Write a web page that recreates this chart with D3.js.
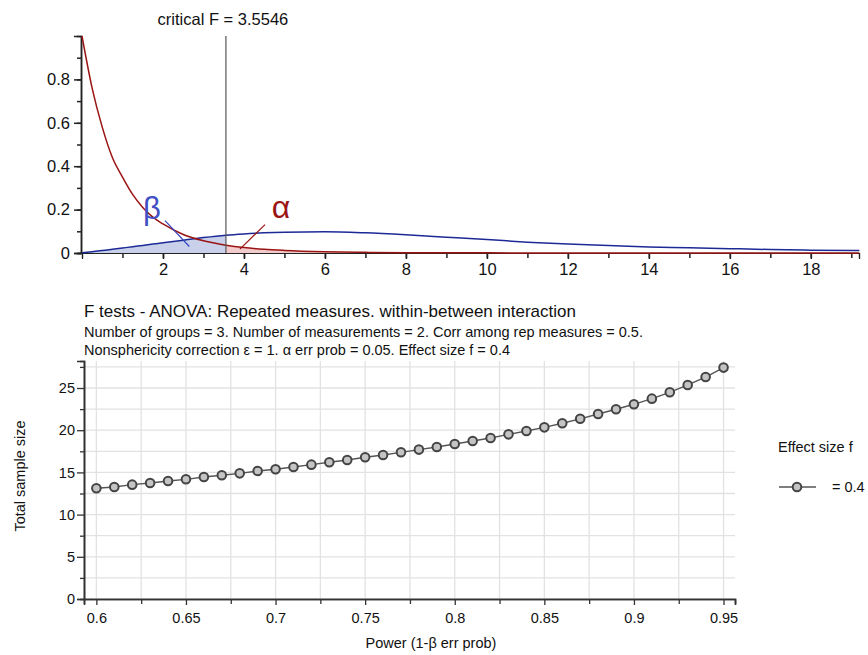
<!DOCTYPE html>
<html>
<head>
<meta charset="utf-8">
<script src="https://d3js.org/d3.v7.min.js"></script>
<style>
  body { margin: 0; background: #fff; }
  svg { font-family: "Liberation Sans", Arial, sans-serif; }
</style>
</head>
<body>
<svg width="868" height="655"></svg>
<script>
// ---- top panel: densities ----
var fValues    = [0, 0.25, 0.5, 0.75, 1, 1.25, 1.5, 1.75, 2, 2.5, 3, 3.5546, 4, 4.5, 5, 6, 7, 8, 9, 10, 11, 12, 13, 14, 15, 16, 17, 18, 19.2];
var centralF   = [1.0, 0.76, 0.58, 0.44, 0.35, 0.27, 0.21, 0.165, 0.134, 0.085, 0.056, 0.036, 0.025, 0.017, 0.012, 0.006, 0.003, 0.0017, 0.001, 0.0006, 0.0004, 0.0002, 0.0001, 0.0001, 0, 0, 0, 0, 0];
var noncentral = [0.001, 0.006, 0.011, 0.017, 0.023, 0.029, 0.035, 0.041, 0.047, 0.059, 0.071, 0.082, 0.088, 0.093, 0.096, 0.098, 0.093, 0.084, 0.073, 0.062, 0.050, 0.041, 0.034, 0.028, 0.024, 0.020, 0.016, 0.013, 0.011];
var critF = 3.5546;
var topYTicks = [0, 0.2, 0.4, 0.6, 0.8];
var topXTicks = [2, 4, 6, 8, 10, 12, 14, 16, 18];

// ---- bottom panel: total sample size vs power ----
var power = [0.60, 0.61, 0.62, 0.63, 0.64, 0.65, 0.66, 0.67, 0.68, 0.69, 0.70, 0.71, 0.72, 0.73, 0.74, 0.75, 0.76, 0.77, 0.78, 0.79, 0.80, 0.81, 0.82, 0.83, 0.84, 0.85, 0.86, 0.87, 0.88, 0.89, 0.90, 0.91, 0.92, 0.93, 0.94, 0.95];
var sampleSize = [13.12, 13.27, 13.55, 13.75, 13.98, 14.18, 14.45, 14.66, 14.89, 15.17, 15.37, 15.64, 15.92, 16.2, 16.47, 16.79, 17.06, 17.38, 17.70, 18.01, 18.37, 18.72, 19.08, 19.51, 19.91, 20.34, 20.82, 21.35, 21.92, 22.48, 23.07, 23.74, 24.49, 25.36, 26.30, 27.42];
var powerTicks = [0.6, 0.65, 0.7, 0.75, 0.8, 0.85, 0.9, 0.95];
var sizeTicks = [0, 5, 10, 15, 20, 25];

var svg = d3.select('svg');
var FONT = '"Liberation Sans", Arial, sans-serif';

// ================= top chart =================
var xs = d3.scaleLinear().domain([0, 19.19]).range([82, 859]);
var ys = d3.scaleLinear().domain([0, 1]).range([253, 36]);

var cdata = fValues.map(function(f, i) { return {f: f, c: centralF[i], n: noncentral[i]}; });

// beta area (noncentral below critical F)
svg.append('path')
  .datum(cdata.filter(function(d) { return d.f <= critF; }))
  .attr('fill', '#c9d1ea')
  .attr('d', d3.area().curve(d3.curveMonotoneX)
      .x(function(d) { return xs(d.f); }).y0(ys(0)).y1(function(d) { return ys(d.n); }));

// alpha area (central above critical F)
svg.append('path')
  .datum(cdata.filter(function(d) { return d.f >= critF; }))
  .attr('fill', '#f2cccc')
  .attr('d', d3.area().curve(d3.curveMonotoneX)
      .x(function(d) { return xs(d.f); }).y0(ys(0)).y1(function(d) { return ys(d.c); }));

// y axis
var yAx = svg.append('g').attr('transform', 'translate(81,0)');
yAx.call(d3.axisLeft(ys).tickValues(d3.range(0, 1.0, 0.1)).tickSize(4).tickFormat(''));
yAx.append('g').call(d3.axisLeft(ys).tickValues(topYTicks).tickSize(7).tickFormat(d3.format('')));
yAx.selectAll('.domain').attr('stroke', '#222').attr('stroke-width', 1.5);
yAx.selectAll('.tick line').attr('stroke', '#222').attr('stroke-width', 1.5);
yAx.selectAll('text').attr('font-size', 16.5).attr('fill', '#111').attr('font-family', FONT).attr('x', -11);

// x axis
var xAx = svg.append('g').attr('transform', 'translate(0,253)');
xAx.call(d3.axisBottom(xs).tickValues(d3.range(1, 20, 1)).tickSize(5).tickFormat(''));
xAx.append('g').call(d3.axisBottom(xs).tickValues(topXTicks).tickSize(6).tickFormat(d3.format('d')));
xAx.selectAll('.domain').attr('stroke', '#222').attr('stroke-width', 1.2);
xAx.selectAll('.tick line').attr('stroke', '#222').attr('stroke-width', 1.5);
xAx.selectAll('text').attr('font-size', 16.5).attr('fill', '#111').attr('font-family', FONT).attr('y', 10);

// curves
svg.append('path')
  .datum(cdata)
  .attr('fill', 'none').attr('stroke', '#1c2a96').attr('stroke-width', 1.5)
  .attr('d', d3.line().curve(d3.curveMonotoneX)
      .x(function(d) { return xs(d.f); }).y(function(d) { return ys(d.n); }));

svg.append('path')
  .datum(cdata)
  .attr('fill', 'none').attr('stroke', '#9a1414').attr('stroke-width', 1.5)
  .attr('d', d3.line().curve(d3.curveMonotoneX)
      .x(function(d) { return xs(d.f); }).y(function(d) { return ys(d.c); }));

// critical F line + label
svg.append('line')
  .attr('x1', xs(critF)).attr('x2', xs(critF))
  .attr('y1', ys(1)).attr('y2', ys(0))
  .attr('stroke', '#555').attr('stroke-width', 1.2);
svg.append('text')
  .attr('x', xs(critF) - 3).attr('y', 25)
  .attr('text-anchor', 'middle').attr('font-size', 16.5).attr('fill', '#111')
  .text('critical F = ' + critF);

// beta / alpha labels and pointers
svg.append('line')
  .attr('x1', xs(2.05)).attr('y1', ys(0.149)).attr('x2', xs(2.65)).attr('y2', ys(0.03))
  .attr('stroke', '#3346c0').attr('stroke-width', 1.2);
svg.append('text')
  .attr('x', 152).attr('y', 219).attr('text-anchor', 'middle')
  .attr('font-size', 31).attr('fill', '#4150c4').text('β');
svg.append('line')
  .attr('x1', xs(4.52)).attr('y1', ys(0.131)).attr('x2', xs(3.90)).attr('y2', ys(0.018))
  .attr('stroke', '#9a1414').attr('stroke-width', 1.2);
svg.append('text')
  .attr('x', 281).attr('y', 218).attr('text-anchor', 'middle')
  .attr('font-size', 32).attr('fill', '#9a1414').text('α');

// ================= bottom chart =================
svg.append('text').attr('x', 84).attr('y', 317).attr('font-size', 17).attr('fill', '#111')
  .text('F tests - ANOVA: Repeated measures. within-between interaction');
svg.append('text').attr('x', 84).attr('y', 337).attr('font-size', 14.5).attr('fill', '#111')
  .text('Number of groups = 3. Number of measurements = 2. Corr among rep measures = 0.5.');
svg.append('text').attr('x', 84).attr('y', 355).attr('font-size', 14.5).attr('fill', '#111')
  .text('Nonsphericity correction ε = 1. α err prob = 0.05. Effect size f = 0.4');

var px = d3.scaleLinear().domain([0.5931, 0.9564]).range([84, 735]);
var py = d3.scaleLinear().domain([0, 28.2]).range([599, 361]);

// grid
svg.append('g').selectAll('line')
  .data(d3.range(0, 28.2, 2.5))
  .enter().append('line')
  .attr('x1', 84).attr('x2', 735)
  .attr('y1', function(d) { return py(d); }).attr('y2', function(d) { return py(d); })
  .attr('stroke', '#e2e2e2').attr('stroke-width', 1.3);
svg.append('g').selectAll('line')
  .data(d3.range(0.6, 0.96, 0.025))
  .enter().append('line')
  .attr('x1', function(d) { return px(d); }).attr('x2', function(d) { return px(d); })
  .attr('y1', 361).attr('y2', 599)
  .attr('stroke', '#e2e2e2').attr('stroke-width', 1.3);

// axes
var pyAx = svg.append('g').attr('transform', 'translate(84,0)');
pyAx.call(d3.axisLeft(py).tickValues(d3.range(2.5, 28, 5)).tickSize(4).tickFormat(''));
pyAx.append('g').call(d3.axisLeft(py).tickValues(sizeTicks).tickSize(7).tickFormat(d3.format('d')));
pyAx.selectAll('.domain').attr('stroke', '#333').attr('stroke-width', 1.6);
pyAx.selectAll('.tick line').attr('stroke', '#333').attr('stroke-width', 1.3);
pyAx.selectAll('text').attr('font-size', 14.5).attr('fill', '#111').attr('font-family', FONT).attr('x', -9);

var pxAx = svg.append('g').attr('transform', 'translate(0,599)');
pxAx.call(d3.axisBottom(px).tickValues(d3.range(0.625, 0.96, 0.05)).tickSize(5).tickFormat(''));
pxAx.append('g').call(d3.axisBottom(px).tickValues(powerTicks).tickSize(6).tickFormat(d3.format('')));
pxAx.selectAll('.domain').attr('stroke', '#333').attr('stroke-width', 1.6);
pxAx.selectAll('.tick line').attr('stroke', '#333').attr('stroke-width', 1.3);
pxAx.selectAll('text').attr('font-size', 14.5).attr('fill', '#111').attr('font-family', FONT).attr('y', 14);

// axis labels
svg.append('text').attr('transform', 'translate(25,476) rotate(-90)')
  .attr('text-anchor', 'middle').attr('font-size', 14.5).attr('fill', '#111')
  .text('Total sample size');
svg.append('text').attr('x', 431).attr('y', 648)
  .attr('text-anchor', 'middle').attr('font-size', 14.5).attr('fill', '#111')
  .text('Power (1-β err prob)');

// series
var pts = power.map(function(p, i) { return {p: p, n: sampleSize[i]}; });
svg.append('path').datum(pts)
  .attr('fill', 'none').attr('stroke', '#555').attr('stroke-width', 1.4)
  .attr('d', d3.line().x(function(d) { return px(d.p); }).y(function(d) { return py(d.n); }));
svg.append('g').selectAll('circle')
  .data(pts).enter().append('circle')
  .attr('cx', function(d) { return px(d.p); })
  .attr('cy', function(d) { return py(d.n); })
  .attr('r', 4.3)
  .attr('fill', '#c4c4c4').attr('stroke', '#444').attr('stroke-width', 2);

// legend
svg.append('text').attr('x', 778).attr('y', 452).attr('font-size', 14.5).attr('fill', '#111').text('Effect size f');
svg.append('line').attr('x1', 779).attr('x2', 816).attr('y1', 487).attr('y2', 487)
  .attr('stroke', '#555').attr('stroke-width', 1.4);
svg.append('circle').attr('cx', 797).attr('cy', 487).attr('r', 4.3)
  .attr('fill', '#c4c4c4').attr('stroke', '#444').attr('stroke-width', 2);
svg.append('text').attr('x', 832).attr('y', 492).attr('font-size', 14.5).attr('fill', '#111').text('= 0.4');
</script>
</body>
</html>
